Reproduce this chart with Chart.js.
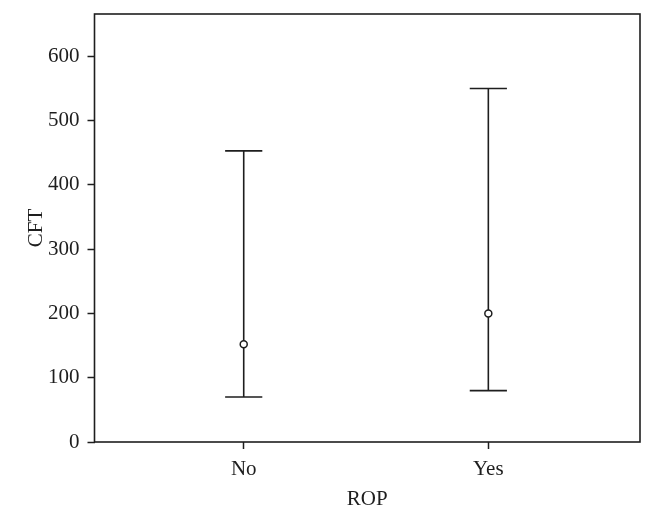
<!DOCTYPE html>
<html>
<head>
<meta charset="utf-8">
<script src="https://cdn.jsdelivr.net/npm/chart.js@4"></script>
<style>
  html, body { margin: 0; padding: 0; background: #fff; }
  #wrap { width: 652px; height: 521px; }
</style>
</head>
<body>
<div id="wrap"><canvas id="chart" width="652" height="521"></canvas></div>
<script>
// Data
const categories = ['No', 'Yes'];
const centers = [152, 200];
const lowValues = [70, 80];
const highValues = [453, 550];
const yTicks = [0, 100, 200, 300, 400, 500, 600];

const ink = '#1e1e1e';
const font = { family: "'Liberation Serif', 'Times New Roman', serif", size: 21 };

const points = categories.map((c, i) => ({ x: i + 1, y: centers[i] }));

// draws whiskers, caps and the frame using the chart's own scales
const errorBars = {
    id: 'errorBars',
    beforeDatasetsDraw(chart) {
        const { ctx, chartArea, scales: { x, y } } = chart;
        ctx.save();
        ctx.strokeStyle = ink;
        ctx.lineWidth = 1.6;
        categories.forEach((c, i) => {
            const px = x.getPixelForValue(i + 1);
            const capL = x.getPixelForValue(i + 1 - 0.076);
            const capR = x.getPixelForValue(i + 1 + 0.076);
            const yLo = y.getPixelForValue(lowValues[i]);
            const yHi = y.getPixelForValue(highValues[i]);
            ctx.beginPath();
            ctx.moveTo(px, yLo); ctx.lineTo(px, yHi);
            ctx.moveTo(capL, yLo); ctx.lineTo(capR, yLo);
            ctx.moveTo(capL, yHi); ctx.lineTo(capR, yHi);
            ctx.stroke();
        });
        // box around the plot
        ctx.strokeRect(chartArea.left, chartArea.top, chartArea.right - chartArea.left, chartArea.bottom - chartArea.top);
        ctx.restore();
    }
};

new Chart(document.getElementById('chart'), {
    type: 'scatter',
    data: {
        datasets: [{
            data: points,
            pointRadius: 3.5,
            pointBorderWidth: 1.5,
            pointBorderColor: ink,
            pointBackgroundColor: '#fff'
        }]
    },
    options: {
        responsive: false,
        animation: false,
        layout: { padding: { top: 14, right: 12, left: 0, bottom: 0 } },
        plugins: { legend: { display: false }, tooltip: { enabled: false } },
        scales: {
            x: {
                type: 'linear',
                min: 0.39,
                max: 2.62,
                afterBuildTicks: (s) => { s.ticks = categories.map((c, i) => ({ value: i + 1 })); },
                afterFit: (s) => { s.height = 79; s.paddingLeft = 0; s.paddingRight = 0; },
                ticks: {
                    color: ink,
                    font: font,
                    padding: 8,
                    callback: (v) => categories[v - 1] || ''
                },
                grid: { drawOnChartArea: false, tickLength: 7, tickWidth: 1.5, tickColor: ink },
                border: { display: false },
                title: { display: true, text: 'ROP', color: ink, font: font, padding: { top: 0, bottom: 9 } }
            },
            y: {
                min: 0,
                max: 666,
                afterBuildTicks: (s) => { s.ticks = yTicks.map(v => ({ value: v })); },
                afterFit: (s) => { s.width = 94.5; s.paddingTop = 0; s.paddingBottom = 0; },
                ticks: { color: ink, font: font, padding: 8 },
                grid: { drawOnChartArea: false, tickLength: 7, tickWidth: 1.5, tickColor: ink },
                border: { display: false },
                title: { display: true, text: 'CFT', color: ink, font: font, padding: { top: 24, bottom: 0 } }
            }
        }
    },
    plugins: [errorBars]
});
</script>
</body>
</html>
